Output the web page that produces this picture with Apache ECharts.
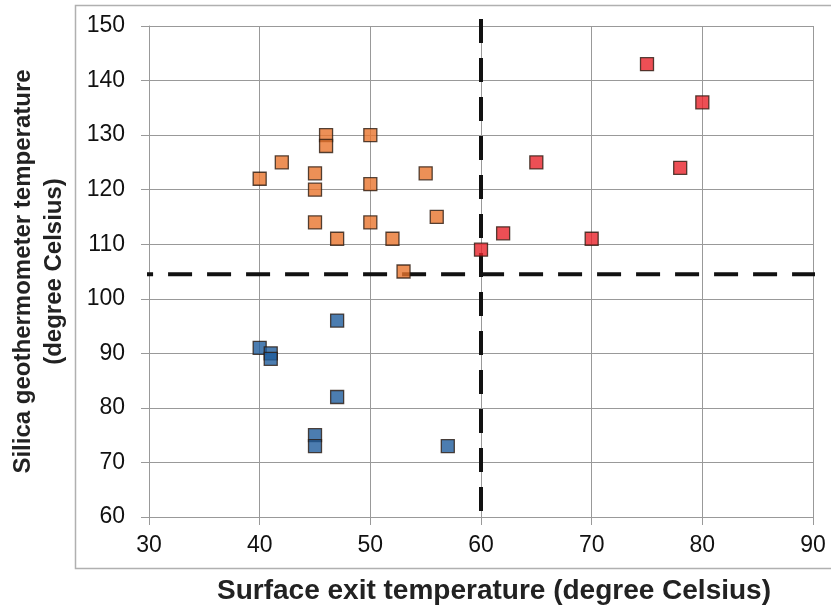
<!DOCTYPE html>
<html>
<head>
<meta charset="utf-8">
<script src="https://cdn.jsdelivr.net/npm/echarts@6/dist/echarts.min.js"></script>
<style>
    html, body { margin: 0; padding: 0; background: #fff; }
    #chart { width: 831px; height: 610px; }
</style>
</head>
<body>
<div id="chart"></div>
<script>
// surface exit temperature / silica geothermometer temperature
var bluePoints = [[47, 96], [40, 91], [41, 90], [41, 89], [47, 82], [45, 75], [45, 73], [57, 73]];
var orangePoints = [[40, 122], [42, 125], [46, 130], [46, 128], [50, 130], [45, 123], [45, 120], [50, 121],
    [55, 123], [45, 114], [50, 114], [47, 111], [52, 111], [56, 115], [53, 105]];
var redPoints = [[60, 109], [62, 112], [65, 125], [70, 111], [75, 143], [80, 136], [78, 124]];
// threshold lines
var hLine = [[28.2, 104.5], [90.6, 104.5]];
var vLine = [[60, 151.3], [60, 60]];

var xName = 'Surface exit temperature (degree Celsius)';
var yName = 'Silica geothermometer temperature\n(degree Celsius)';

var chart = echarts.init(document.getElementById('chart'));

function pointSeries(data, color) {
    return {
        type: 'scatter',
        data: data,
        symbol: 'rect',
        symbolSize: 13,
        itemStyle: { color: color, borderColor: '#2a1a10', borderWidth: 1.3 },
        z: 5
    };
}

function dashSeries(data) {
    return {
        type: 'line',
        data: data,
        symbol: 'none',
        clip: false,
        lineStyle: { color: '#111', width: 4, type: [24, 15] },
        z: 3
    };
}

var option = {
    backgroundColor: '#fff',
    animation: false,
    grid: { left: 147, right: 18, top: 26, bottom: 91 },
    graphic: [{
        type: 'rect',
        shape: { x: 75.5, y: 5.5, width: 780, height: 563 },
        style: { fill: 'none', stroke: '#b0b0b0', lineWidth: 1.5 },
        z: -1
    }],
    xAxis: {
        type: 'value',
        min: 30,
        max: 90,
        interval: 10,
        name: xName,
        nameLocation: 'middle',
        nameGap: 60,
        nameTextStyle: { fontFamily: 'Liberation Sans', fontWeight: 'bold', fontSize: 28, color: '#222', padding: [0, 0, 0, 26] },
        axisLine: { show: true, lineStyle: { color: '#999' } },
        axisTick: { show: true, length: 8, lineStyle: { color: '#999' } },
        axisLabel: { fontFamily: 'Liberation Sans', fontSize: 23, color: '#111', margin: 17 },
        splitLine: { show: true, lineStyle: { color: '#999', width: 1 } }
    },
    yAxis: {
        type: 'value',
        min: 60,
        max: 150,
        interval: 10,
        name: yName,
        nameLocation: 'middle',
        nameGap: 79,
        nameTextStyle: { fontFamily: 'Liberation Sans', fontWeight: 'bold', fontSize: 24, color: '#222', lineHeight: 31 },
        axisLine: { show: true, lineStyle: { color: '#999' } },
        axisTick: { show: true, length: 8, lineStyle: { color: '#999' } },
        axisLabel: { fontFamily: 'Liberation Sans', fontSize: 23, color: '#111', margin: 24 },
        splitLine: { show: true, lineStyle: { color: '#999', width: 1 } }
    },
    series: [
        dashSeries(hLine),
        dashSeries(vLine),
        pointSeries(bluePoints, '#1f5c9c'),
        pointSeries(orangePoints, '#e8742d'),
        pointSeries(redPoints, '#e8232b')
    ]
};
chart.setOption(option);
</script>
</body>
</html>
